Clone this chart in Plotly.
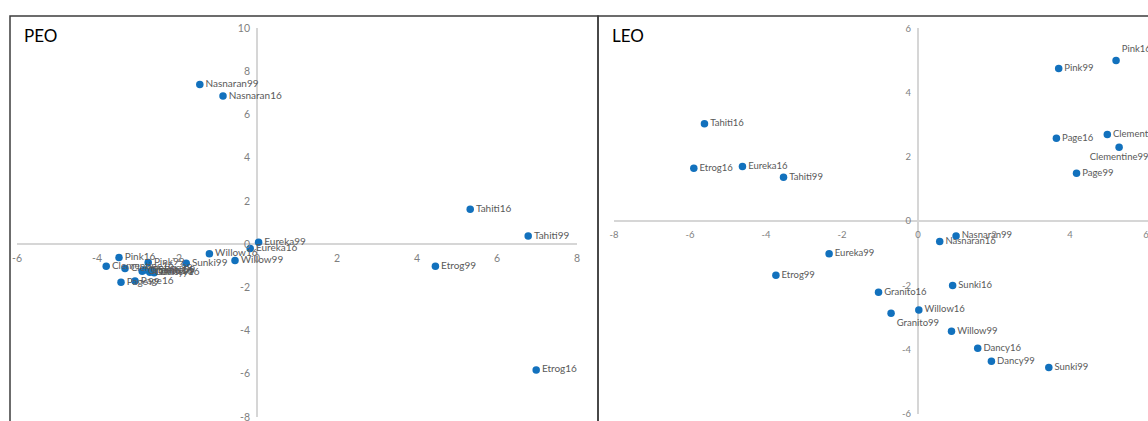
import plotly.graph_objects as go

W, H = 1148, 421

# Principal component scores, PEO panel
peo_names = ["Nasnaran99", "Nasnaran16", "Tahiti16", "Tahiti99", "Etrog99", "Etrog16",
             "Eureka99", "Eureka16", "Willow16", "Willow99", "Sunki99", "Sunki16",
             "Pink16", "Pink99", "Clementine16", "Clementine99", "Page99", "Page16",
             "Granito16", "Granito99", "Dancy16", "Dancy99"]
peo_x = [-1.43, -0.85, 5.33, 6.78, 4.46, 6.98, 0.04, -0.17, -1.19, -0.55, -1.77, -2.62,
         -3.45, -2.72, -3.77, -3.30, -3.40, -3.05, -2.87, -2.80, -2.57, -2.68]
peo_y = [7.39, 6.85, 1.61, 0.37, -1.03, -5.82, 0.09, -0.20, -0.45, -0.76, -0.88, -1.22,
         -0.62, -0.85, -1.02, -1.13, -1.77, -1.71, -1.25, -1.20, -1.33, -1.30]

# Principal component scores, LEO panel
leo_names = ["Tahiti16", "Etrog16", "Eureka16", "Tahiti99", "Eureka99", "Etrog99",
             "Granito16", "Granito99", "Willow16", "Nasnaran99", "Nasnaran16", "Sunki16",
             "Willow99", "Dancy16", "Dancy99", "Sunki99", "Pink99", "Pink16", "Page16",
             "Clementine16", "Clementine99", "Page99"]
leo_x = [-5.62, -5.90, -4.62, -3.54, -2.34, -3.74, -1.04, -0.71, 0.02, 1.00, 0.57, 0.91,
         0.88, 1.57, 1.93, 3.44, 3.70, 5.21, 3.64, 4.98, 5.29, 4.17]
leo_y = [3.03, 1.64, 1.70, 1.36, -1.02, -1.69, -2.22, -2.87, -2.77, -0.47, -0.64, -2.01,
         -3.43, -3.96, -4.37, -4.56, 4.75, 5.00, 2.58, 2.69, 2.30, 1.49]

# Axis ranges and tick values
peo_x_range = [-6, 8]
peo_y_range = [-8, 10]
peo_x_ticks = [-6, -4, -2, 0, 2, 4, 6, 8]
peo_y_ticks = [-8, -6, -4, -2, 0, 2, 4, 6, 8, 10]

leo_x_range = [-8, 6.05]
leo_y_range = [-6, 6]
leo_x_ticks = [-8, -6, -4, -2, 0, 2, 4, 6]
leo_y_ticks = [-6, -4, -2, 0, 2, 4, 6]

BLUE = "#1271bd"
LABEL = "#595959"
TICK = "#7f7f7f"
AXIS = "#d6d6d6"
FONT = "Lato"

# Label placement exceptions (default: right of the marker)
leo_label_pos = {"Granito99": "bottom right", "Pink16": "top right",
                 "Clementine99": "bottom center"}


def label_positions(names, special):
    return [special.get(n, "middle right") for n in names]


# Plot-area geometry in pixels
peo_px = (17, 577, 28, 417)      # left, right, top, bottom
leo_px = (614, W, 28.3, 413.7)


def domains(px):
    l, r, t, b = px
    return [l / W, r / W], [1 - b / H, 1 - t / H]


peo_xd, peo_yd = domains(peo_px)
leo_xd, leo_yd = domains(leo_px)


def cross(dom, rng):
    # paper position of data value 0 along an axis
    return dom[0] + (0 - rng[0]) / (rng[1] - rng[0]) * (dom[1] - dom[0])


fig = go.Figure()
fig.add_trace(go.Scatter(
    x=peo_x, y=peo_y, text=peo_names, mode="markers+text",
    textposition=label_positions(peo_names, {}), cliponaxis=False,
    marker=dict(color=BLUE, size=7.5),
    textfont=dict(family=FONT, size=10, color=LABEL),
    xaxis="x", yaxis="y", hoverinfo="text", showlegend=False))
fig.add_trace(go.Scatter(
    x=leo_x, y=leo_y, text=leo_names, mode="markers+text",
    textposition=label_positions(leo_names, leo_label_pos), cliponaxis=False,
    marker=dict(color=BLUE, size=7.5),
    textfont=dict(family=FONT, size=9.5, color=LABEL),
    xaxis="x2", yaxis="y2", hoverinfo="text", showlegend=False))


def axis(dom, rng, ticks, pos, size, standoff):
    return dict(domain=dom, range=rng, tickvals=ticks, ticktext=[str(t) for t in ticks],
                anchor="free", position=pos, showgrid=False, showline=False,
                zeroline=True, zerolinecolor=AXIS, zerolinewidth=2, ticks="",
                ticklabelstandoff=standoff, automargin=False, ticklabeloverflow="allow",
                tickfont=dict(family=FONT, size=size, color=TICK), fixedrange=True)


fig.update_layout(
    width=W, height=H, margin=dict(l=0, r=0, t=0, b=0, pad=0, autoexpand=False),
    paper_bgcolor="white", plot_bgcolor="white",
    xaxis=axis(peo_xd, peo_x_range, peo_x_ticks, cross(peo_yd, peo_y_range), 10.5, 6),
    yaxis=axis(peo_yd, peo_y_range, peo_y_ticks, cross(peo_xd, peo_x_range), 10.5, 7),
    xaxis2=axis(leo_xd, leo_x_range, leo_x_ticks, cross(leo_yd, leo_y_range), 9.5, 6),
    yaxis2=axis(leo_yd, leo_y_range, leo_y_ticks, cross(leo_xd, leo_x_range), 9.5, 7),
    shapes=[
        dict(type="rect", xref="paper", yref="paper", x0=10 / W, x1=598 / W,
             y0=-0.2, y1=1 - 16 / H, line=dict(color="#3c3c3c", width=1.5)),
        dict(type="rect", xref="paper", yref="paper", x0=598 / W, x1=1.2,
             y0=-0.2, y1=1 - 16 / H, line=dict(color="#3c3c3c", width=1.5)),
    ],
    annotations=[
        dict(text="PEO", xref="paper", yref="paper", x=22 / W, y=1 - 36 / H,
             xanchor="left", yanchor="middle", showarrow=False,
             font=dict(family=FONT, size=17, color="black")),
        dict(text="LEO", xref="paper", yref="paper", x=610 / W, y=1 - 36 / H,
             xanchor="left", yanchor="middle", showarrow=False,
             font=dict(family=FONT, size=17, color="black")),
    ],
)

# Page body without default margin so the figure fills the window exactly
fig.write_html(
    "out.html",
    config=dict(displayModeBar=False),
    post_script="document.body.style.margin='0';document.body.style.overflow='hidden';",
)
